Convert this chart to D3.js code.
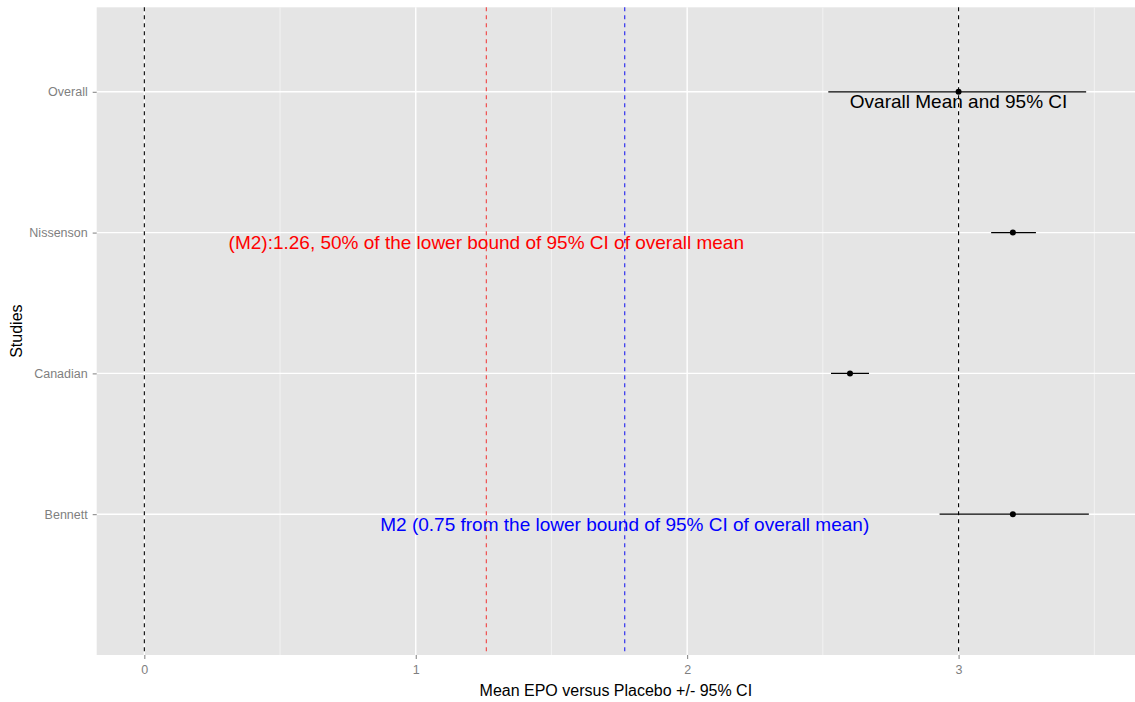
<!DOCTYPE html>
<html><head><meta charset="utf-8">
<script src="https://cdn.jsdelivr.net/npm/d3@7"></script>
<style>body{margin:0;background:#fff;} svg{display:block;}</style>
</head><body>
<svg id="chart" width="1135" height="702"></svg>
<script>
const studies = ["Bennett", "Canadian", "Nissenson", "Overall"];
const means = [3.20, 2.60, 3.20, 3.00];
const lowers = [2.93, 2.53, 3.12, 2.52];
const uppers = [3.48, 2.67, 3.285, 3.47];
const xTicks = [0, 1, 2, 3];
const vLines = [0, 3];
const m2Red = 1.26;
const m2Blue = 1.77;
const labelRed = "(M2):1.26, 50% of the lower bound of 95% CI of overall mean";
const labelBlue = "M2 (0.75 from the lower bound of 95% CI of overall mean)";
const labelOverall = "Ovarall Mean and 95% CI";

const svg = d3.select("#chart");
const L = 96.7, R = 1135, T = 7.3, B = 655;
const x = d3.scaleLinear().domain([-0.1755, 3.65]).range([L, R]);
const y = d3.scaleLinear().domain([0, 4.6]).range([B, T]);
const font = "'Liberation Sans', Arial, sans-serif";

svg.append("rect").attr("x", L).attr("y", T).attr("width", R - L).attr("height", B - T).attr("fill", "#E5E5E5");

// minor grid
const minor = [0.5, 1.5, 2.5, 3.5];
svg.selectAll(".minor").data(minor).enter().append("line")
  .attr("x1", d => x(d)).attr("x2", d => x(d)).attr("y1", T).attr("y2", B)
  .attr("stroke", "#F2F2F2").attr("stroke-width", 1);
svg.selectAll(".major").data(xTicks).enter().append("line")
  .attr("x1", d => x(d)).attr("x2", d => x(d)).attr("y1", T).attr("y2", B)
  .attr("stroke", "#FFFFFF").attr("stroke-width", 1.4);
svg.selectAll(".hgrid").data(studies).enter().append("line")
  .attr("x1", L).attr("x2", R).attr("y1", (d, i) => y(i + 1)).attr("y2", (d, i) => y(i + 1))
  .attr("stroke", "#FFFFFF").attr("stroke-width", 1.4);

// vertical reference lines
svg.selectAll(".vref").data(vLines).enter().append("line")
  .attr("x1", d => x(d)).attr("x2", d => x(d)).attr("y1", T).attr("y2", B)
  .attr("stroke", "#000").attr("stroke-width", 1.1).attr("stroke-dasharray", "4,4");
svg.append("line").attr("x1", x(m2Red)).attr("x2", x(m2Red)).attr("y1", T).attr("y2", B)
  .attr("stroke", "#F04040").attr("stroke-width", 1.1).attr("stroke-dasharray", "4,4");
svg.append("line").attr("x1", x(m2Blue)).attr("x2", x(m2Blue)).attr("y1", T).attr("y2", B)
  .attr("stroke", "#2020F0").attr("stroke-width", 1.1).attr("stroke-dasharray", "4,4");

// error bars
svg.selectAll(".ci").data(studies).enter().append("line")
  .attr("x1", (d, i) => x(lowers[i])).attr("x2", (d, i) => x(uppers[i]))
  .attr("y1", (d, i) => y(i + 1)).attr("y2", (d, i) => y(i + 1))
  .attr("stroke", "#000").attr("stroke-width", 1.2);
svg.selectAll(".pt").data(studies).enter().append("circle")
  .attr("cx", (d, i) => x(means[i])).attr("cy", (d, i) => y(i + 1)).attr("r", 3)
  .attr("fill", "#000");

// annotations
svg.append("text").attr("x", x(3.0)).attr("y", y(4) + 16.5).attr("text-anchor", "middle")
  .attr("font-family", font).attr("font-size", 19).attr("fill", "#000").text(labelOverall);
svg.append("text").attr("x", x(m2Red)).attr("y", y(3) + 16.5).attr("text-anchor", "middle")
  .attr("font-family", font).attr("font-size", 19).attr("fill", "#FF0000").text(labelRed);
svg.append("text").attr("x", x(m2Blue)).attr("y", y(1) + 16.5).attr("text-anchor", "middle")
  .attr("font-family", font).attr("font-size", 19).attr("fill", "#0000FF").text(labelBlue);

// axes
const xAxis = svg.append("g").attr("transform", `translate(0,${B})`)
  .call(d3.axisBottom(x).tickValues(xTicks).tickFormat(d3.format("d")).tickSize(4).tickPadding(6));
xAxis.select(".domain").remove();
xAxis.selectAll("line").attr("stroke", "#7F7F7F");
xAxis.selectAll("text").attr("fill", "#7F7F7F").attr("font-family", font).attr("font-size", 12.5);

const yAxis = svg.append("g").attr("transform", `translate(${L},0)`)
  .call(d3.axisLeft(y).tickValues([1, 2, 3, 4]).tickFormat(d => studies[d - 1]).tickSize(4).tickPadding(5));
yAxis.select(".domain").remove();
yAxis.selectAll("line").attr("stroke", "#7F7F7F");
yAxis.selectAll("text").attr("fill", "#7F7F7F").attr("font-family", font).attr("font-size", 12.5);

svg.append("text").attr("x", (L + R) / 2).attr("y", 696).attr("text-anchor", "middle")
  .attr("font-family", font).attr("font-size", 16).attr("fill", "#000").text("Mean EPO versus Placebo +/- 95% CI");
svg.append("text").attr("transform", `translate(22,${(T + B) / 2}) rotate(-90)`).attr("text-anchor", "middle")
  .attr("font-family", font).attr("font-size", 16).attr("fill", "#000").text("Studies");
</script>
</body></html>
